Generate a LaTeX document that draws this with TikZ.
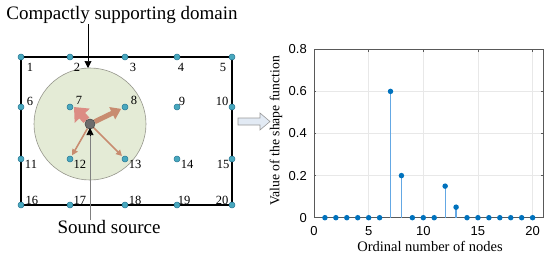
\documentclass[tikz,border=0pt]{standalone}
\usepackage{fontspec}
\setmainfont{Liberation Serif}
\newfontfamily\plotsans{Liberation Sans}
\usetikzlibrary{arrows.meta,shapes.arrows}
\definecolor{ptfill}{RGB}{72,168,190}
\definecolor{ptdraw}{RGB}{40,120,150}
\definecolor{domfill}{RGB}{228,235,214}
\definecolor{domdraw}{RGB}{150,150,140}
\definecolor{pinkarr}{RGB}{220,140,132}
\definecolor{brownarr}{RGB}{200,140,112}
\definecolor{stemc}{RGB}{100,168,228}
\definecolor{markc}{RGB}{0,114,189}
\definecolor{gridc}{RGB}{232,232,232}
\definecolor{hollowfill}{RGB}{226,234,244}
\tikzset{
  pt/.style={circle,fill=ptfill,draw=ptdraw,line width=0.5pt,inner sep=0pt,minimum size=6pt},
  lbl/.style={font=\fontsize{12.5}{14}\selectfont,inner sep=1pt},
  bigtxt/.style={font=\fontsize{19}{21}\selectfont,inner sep=0pt},
  axtxt/.style={font=\fontsize{14.5}{16}\selectfont,inner sep=0pt},
  ticktxt/.style={font=\plotsans\fontsize{13}{15}\selectfont,inner sep=0pt},
  stemline/.style={draw=stemc,line width=1.2pt},
  stemmark/.style={circle,fill=markc,inner sep=0pt,minimum size=5.5pt}
}
\begin{document}
\begin{tikzpicture}[x=1pt,y=-1pt]
\useasboundingbox (0,0) rectangle (550,260);
% domain circle
\node[circle,fill=domfill,draw=domdraw,line width=0.6pt,minimum size=112pt,inner sep=0pt] (dom) at (90,124) {};
% rectangle
\draw[line width=1.5pt] (21,57) rectangle (232,205);
% points
\foreach \i/\x/\y in {1/21/57,2/70/57,3/125/57,4/177/57,5/232/57,
  6/21/107,7/70/107,8/125/107,9/177/107,10/232/107,
  11/21/159,12/70/159,13/125/159,14/177/159,15/232/159,
  16/21/205,17/70/205,18/125/205,19/177/205,20/232/205}
  \node[pt] (n\i) at (\x,\y) {};
% labels
\foreach \i/\x/\y in {1/30/67,2/77/67,3/133/67,4/181/67,5/223/67,
  6/30/101,7/79/100,8/134/100,9/182/101,10/222/101,
  11/31/164,12/80/164,13/135/164,14/187/164,15/223/164,
  16/32/200,17/80/200,18/135/200,19/184/200,20/222/200}
  \node[lbl] (l\i) at (\x,\y) {\i};
% arrows from source
\node[circle,fill=gray!85!black,draw=gray!60!black,inner sep=0pt,minimum size=10pt] (src) at (90,124) {};
\draw[draw=brownarr,line width=1.6pt,-{Triangle[length=6pt,width=6pt]},shorten >=1pt] (src) -- (n12);
\draw[draw=brownarr,line width=1.6pt,-{Triangle[length=6pt,width=6pt]},shorten >=1pt] (src) -- (n13);
\draw[draw=brownarr,line width=5pt,-{Triangle[length=10pt,width=13pt]},shorten >=1pt] (src) -- (n8);
\draw[draw=pinkarr,line width=8pt,-{Triangle[length=12pt,width=20pt]}] (src) -- ([xshift=4pt]n7.center);
\node[circle,fill=gray!85!black,draw=gray!60!black,inner sep=0pt,minimum size=10pt] at (src) {};
% texts and pointers
\node[bigtxt] (cdt) at (122,15) {Compactly supporting domain};
\coordinate (cdtip) at (88,68);
\draw[line width=0.6pt,-{Triangle[length=7pt,width=7pt]}] (cdt.south -| cdtip) -- (cdtip);
\node[bigtxt] (sst) at (109,227) {Sound source};
\coordinate (sstail) at (90,136);
\coordinate (sstip) at (90,128);
\draw[draw=gray,line width=0.8pt] (sst.north -| sstail) -- (sstail);
\draw[line width=0.6pt,-{Triangle[length=7pt,width=7pt]}] (sstail) -- (sstip);
% hollow arrow
\draw[draw=gray!80,fill=hollowfill,line width=0.6pt]
  (238,118) -- (260,118) -- (260,113) -- (270,121.5) -- (260,130) -- (260,125) -- (238,125) -- cycle;
% plot
\def\X#1{314+#1*10.93}
\def\Y#1{217.7-#1*210.5}
\foreach \t in {5,10,15,20} \draw[gridc,line width=0.5pt] ({\X{\t}},49.3) -- ({\X{\t}},217.7);
\foreach \v in {0.2,0.4,0.6} \draw[gridc,line width=0.5pt] (314,{\Y{\v}}) -- (543.5,{\Y{\v}});
\draw[draw=gray!70!black,line width=0.6pt] (314,49.3) rectangle (543.5,217.7);
\foreach \t in {0,5,10,15,20} {
  \draw[gray!70!black,line width=0.5pt] ({\X{\t}},217.7) -- ({\X{\t}},215.5);
  \draw[gray!70!black,line width=0.5pt] ({\X{\t}},49.3) -- ({\X{\t}},51.5);
  \node[ticktxt] at ({\X{\t}},231) {\t};
}
\foreach \v/\s in {0/0,0.2/0.2,0.4/0.4,0.6/0.6,0.8/0.8} {
  \draw[gray!70!black,line width=0.5pt] (314,{\Y{\v}}) -- (316.2,{\Y{\v}});
  \draw[gray!70!black,line width=0.5pt] (543.5,{\Y{\v}}) -- (541.3,{\Y{\v}});
  \node[ticktxt,anchor=east] at (307,{\Y{\v}}) {\s};
}
\foreach \n/\v in {1/0,2/0,3/0,4/0,5/0,6/0,7/0.6,8/0.2,9/0,10/0,11/0,12/0.15,13/0.05,14/0,15/0,16/0,17/0,18/0,19/0,20/0} {
  \draw[stemline] ({\X{\n}},217.7) -- ({\X{\n}},{\Y{\v}});
  \node[stemmark] (m\n) at ({\X{\n}},{\Y{\v}}) {};
}
\node[axtxt] (xl) at (430,246) {Ordinal number of nodes};
\node[font=\fontsize{13.7}{15}\selectfont,inner sep=0pt,rotate=90] (yl) at (276,131) {Value of the shape function};
\end{tikzpicture}
\end{document}
